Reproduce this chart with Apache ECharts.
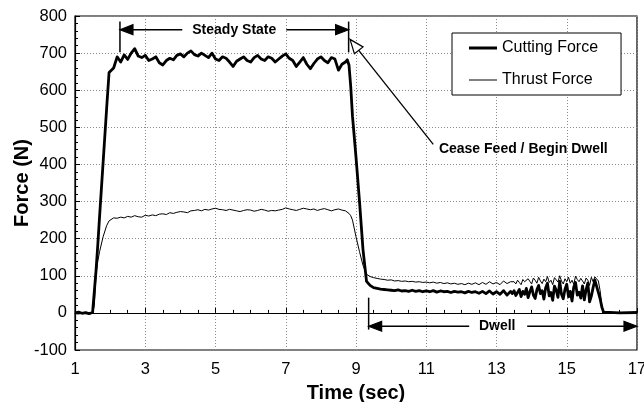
<!DOCTYPE html>
<html><head><meta charset="utf-8">
<script src="https://cdn.jsdelivr.net/npm/echarts@6/dist/echarts.min.js"></script>
<style>html,body{margin:0;padding:0;background:#fff}#c{width:644px;height:402px}</style>
</head><body><div id="c"></div>
<script>
const time = [
1.0,1.1,1.2,1.3,1.4,1.5,1.55,1.6,1.65,1.7,
1.8,1.9,1.97,2.0,2.1,2.2,2.3,2.4,2.5,2.6,
2.7,2.8,2.9,3.0,3.1,3.2,3.3,3.4,3.5,3.6,
3.7,3.8,3.9,4.0,4.1,4.2,4.3,4.4,4.5,4.6,
4.7,4.8,4.9,5.0,5.1,5.2,5.3,5.4,5.5,5.6,
5.7,5.8,5.9,6.0,6.1,6.2,6.3,6.4,6.5,6.6,
6.7,6.8,6.9,7.0,7.1,7.2,7.3,7.4,7.5,7.6,
7.7,7.8,7.9,8.0,8.1,8.2,8.3,8.4,8.5,8.6,
8.7,8.75,8.8,8.85,8.9,9.0,9.1,9.2,9.3,9.4,
9.5,9.6,9.7,9.8,9.9,10.0,10.1,10.2,10.3,10.4,
10.5,10.6,10.7,10.8,10.9,11.0,11.1,11.2,11.3,11.4,
11.5,11.6,11.7,11.8,11.9,12.0,12.1,12.2,12.3,12.4,
12.5,12.6,12.7,12.8,12.9,13.0,13.1,13.2,13.3,13.4,
13.45,13.5,13.55,13.6,13.65,13.7,13.75,13.8,13.85,13.9,
13.95,14.0,14.05,14.1,14.15,14.2,14.25,14.3,14.35,14.4,
14.45,14.5,14.55,14.6,14.65,14.7,14.75,14.8,14.85,14.9,
14.95,15.0,15.05,15.1,15.15,15.2,15.25,15.3,15.35,15.4,
15.45,15.5,15.55,15.6,15.65,15.7,15.75,15.8,15.85,15.9,
15.95,16.0,16.05,16.1,16.5,17.0
];
const cuttingForce = [
0,2,-1,1,-2,1,5,115,185,260,
405,550,648,652,660,690,676,695,683,700,
712,692,688,694,680,684,690,674,668,680,
686,682,694,698,690,700,706,696,692,700,
694,688,700,684,680,690,686,676,664,678,
684,690,680,676,688,694,684,680,690,686,
676,684,692,698,686,680,664,676,688,670,
658,672,684,690,680,674,688,684,654,670,
676,682,668,610,530,420,300,170,85,74,
68,66,64,63,62,61,60,62,59,60,
58,61,58,60,57,59,57,60,56,59,
57,58,55,58,56,57,54,58,55,57,
53,58,52,59,51,57,50,60,48,58,
52,60,47,55,63,44,58,50,66,41,
57,70,48,39,62,74,52,60,37,68,
80,46,55,34,72,61,42,85,50,38,
64,77,43,58,32,70,82,48,56,40,
73,35,62,80,30,45,68,88,92,55,
38,15,2,1,0,1
];
const thrustForce = [
-2,-3,-1,-2,-3,-1,20,105,140,165,
205,235,248,252,256,255,258,256,260,258,
262,259,258,263,261,264,262,266,267,265,
270,268,271,273,272,270,275,276,278,275,
279,277,280,282,279,278,276,279,277,275,
273,276,278,277,274,276,279,277,274,276,
275,277,279,283,280,278,276,279,282,280,
278,280,276,279,281,278,275,278,280,277,
275,272,268,262,250,205,165,128,104,98,
95,93,91,90,88,89,86,87,85,86,
84,85,83,84,82,83,81,83,80,82,
79,81,78,80,77,79,76,80,77,81,
76,82,77,84,78,82,76,86,79,84,
80,84,78,88,82,76,90,84,80,92,
85,78,94,88,80,96,86,79,91,84,
98,82,88,76,95,90,83,100,86,78,
92,84,96,80,88,77,99,90,84,93,
86,78,94,88,74,96,84,97,93,86,
60,20,2,0,1,0
];
const seriesNames = ['Cutting Force', 'Thrust Force'];
const xRange = {min: 1, max: 17, interval: 2};
const yRange = {min: -100, max: 800, interval: 100};
// annotation anchors (data units)
const steadyStart = 2.28, steadyEnd = 8.79, steadyArrowY = 763, steadyTopY = 785, steadyBottomY = 702;
const ceaseTip = [8.83, 737], ceaseTail = [11.2, 454], ceaseText = [11.36, 440];
const dwellStart = 9.36, dwellArrowY = -36, dwellTopY = 41, dwellBottomY = -45, dwellTextX = 13.02;

const FONT = '"Liberation Sans", Arial, Helvetica, sans-serif';
const chart = echarts.init(document.getElementById('c'), null, {renderer: 'canvas'});
const gridStyle = {show: true, lineStyle: {color: '#8a8a8a', width: 1, type: [1, 2]}};
chart.setOption({
  animation: false,
  backgroundColor: '#fff',
  grid: {left: 75, right: 7, top: 16, bottom: 52, containLabel: false, outerBoundsMode: 'none',
         show: true, borderColor: '#000', borderWidth: 1.2, backgroundColor: 'transparent'},
  legend: {
    left: 452, top: 33, orient: 'vertical', padding: [7, 23, 7, 17], itemGap: 16, itemWidth: 28, itemHeight: 14,
    borderColor: '#000', borderWidth: 1, backgroundColor: '#fff', selectedMode: false,
    textStyle: {fontSize: 16, color: '#000', fontFamily: FONT},
    data: [
      {name: seriesNames[0], icon: 'path://M0,0L28,0L28,3L0,3Z', itemStyle: {color: '#000'}},
      {name: seriesNames[1], icon: 'path://M0,0L28,0L28,1L0,1Z', itemStyle: {color: '#000'}}
    ]
  },
  xAxis: {
    type: 'value', min: xRange.min, max: xRange.max, interval: xRange.interval,
    name: 'Time (sec)', nameLocation: 'middle', nameGap: 33, nameMoveOverlap: false,
    nameTextStyle: {fontSize: 20, fontWeight: 'bold', color: '#000', fontFamily: FONT},
    axisLine: {lineStyle: {color: '#000', width: 1.2}},
    axisTick: {inside: true, length: 5, lineStyle: {color: '#000'}},
    minorTick: {show: true, splitNumber: 4, length: 3, lineStyle: {color: '#000'}},
    axisLabel: {fontSize: 16.5, color: '#000', margin: 11, fontFamily: FONT},
    splitLine: gridStyle
  },
  yAxis: {
    type: 'value', min: yRange.min, max: yRange.max, interval: yRange.interval,
    name: 'Force (N)', nameLocation: 'middle', nameGap: 43, nameMoveOverlap: false,
    nameTextStyle: {fontSize: 20, fontWeight: 'bold', color: '#000', fontFamily: FONT},
    axisLine: {show: true, lineStyle: {color: '#000', width: 1.2}},
    axisTick: {show: true, inside: true, length: 5, lineStyle: {color: '#000'}},
    minorTick: {show: true, splitNumber: 5, length: 3, lineStyle: {color: '#000'}},
    axisLabel: {fontSize: 16.5, color: '#000', margin: 8, fontFamily: FONT},
    splitLine: gridStyle
  },
  series: [
    {name: seriesNames[0], type: 'line', symbol: 'none', z: 3,
     lineStyle: {color: '#000', width: 2.8, join: 'round'}, itemStyle: {color: '#000'},
     data: time.map((t, i) => [t, cuttingForce[i]])},
    {name: seriesNames[1], type: 'line', symbol: 'none', z: 4,
     lineStyle: {color: '#000', width: 1}, itemStyle: {color: '#000'},
     data: time.map((t, i) => [t, thrustForce[i]])}
  ]
});

const P = (x, y) => chart.convertToPixel({gridIndex: 0}, [x, y]);
function head(tip, from, len, hw, fill) {
  const dx = tip[0] - from[0], dy = tip[1] - from[1];
  const L = Math.hypot(dx, dy), ux = dx / L, uy = dy / L;
  const bx = tip[0] - ux * len, by = tip[1] - uy * len;
  return {type: 'polygon', z: 100,
    shape: {points: [tip, [bx - uy * hw, by + ux * hw], [bx + uy * hw, by - ux * hw]]},
    style: {fill: fill, stroke: '#000', lineWidth: 1.2}};
}
function line(a, b, w) {
  return {type: 'line', z: 100, shape: {x1: a[0], y1: a[1], x2: b[0], y2: b[1]}, style: {stroke: '#000', lineWidth: w || 1.5}};
}
function text(p, s, align) {
  return {type: 'text', z: 101, x: p[0], y: p[1],
    style: {text: s, font: 'bold 14px ' + FONT, fill: '#000', align: align || 'center', verticalAlign: 'middle'}};
}
const g = [];
// Steady State
const sL = P(steadyStart, steadyArrowY), sR = P(steadyEnd, steadyArrowY);
g.push(line(P(steadyStart, steadyTopY), P(steadyStart, steadyBottomY)));
g.push(line(P(steadyEnd, steadyTopY), P(steadyEnd, steadyBottomY)));
const sC = [(sL[0] + sR[0]) / 2, sL[1]];
const sLe = [sC[0] - 52, sC[1]], sRe = [sC[0] + 52, sC[1]];
g.push(line(sLe, [sL[0] + 10, sL[1]]));
g.push(head(sL, sLe, 13, 5, '#000'));
g.push(line(sRe, [sR[0] - 10, sR[1]]));
g.push(head(sR, sRe, 13, 5, '#000'));
g.push(text(sC, 'Steady State'));
// Cease Feed arrow
const cT = P(ceaseTip[0], ceaseTip[1]), cA = P(ceaseTail[0], ceaseTail[1]);
{
  const dx = cT[0] - cA[0], dy = cT[1] - cA[1], L = Math.hypot(dx, dy);
  const base = [cT[0] - dx / L * 14, cT[1] - dy / L * 14];
  g.push(line(cA, base, 1.3));
  g.push(head(cT, cA, 14, 5.5, '#fff'));
}
g.push(text(P(ceaseText[0], ceaseText[1]), 'Cease Feed / Begin Dwell', 'left'));
// Dwell
const dL = P(dwellStart, dwellArrowY), dR = P(xRange.max, dwellArrowY);
g.push(line(P(dwellStart, dwellTopY), P(dwellStart, dwellBottomY)));
const dC = [P(dwellTextX, dwellArrowY)[0], dL[1]];
const dLe = [dC[0] - 28, dC[1]], dRe = [dC[0] + 30, dC[1]];
g.push(line(dLe, [dL[0] + 10, dL[1]]));
g.push(head(dL, dLe, 13, 5, '#000'));
g.push(line(dRe, [dR[0] - 10, dR[1]]));
g.push(head(dR, dRe, 13, 5, '#000'));
g.push(text(dC, 'Dwell'));
chart.setOption({graphic: g});
</script>
</body></html>
